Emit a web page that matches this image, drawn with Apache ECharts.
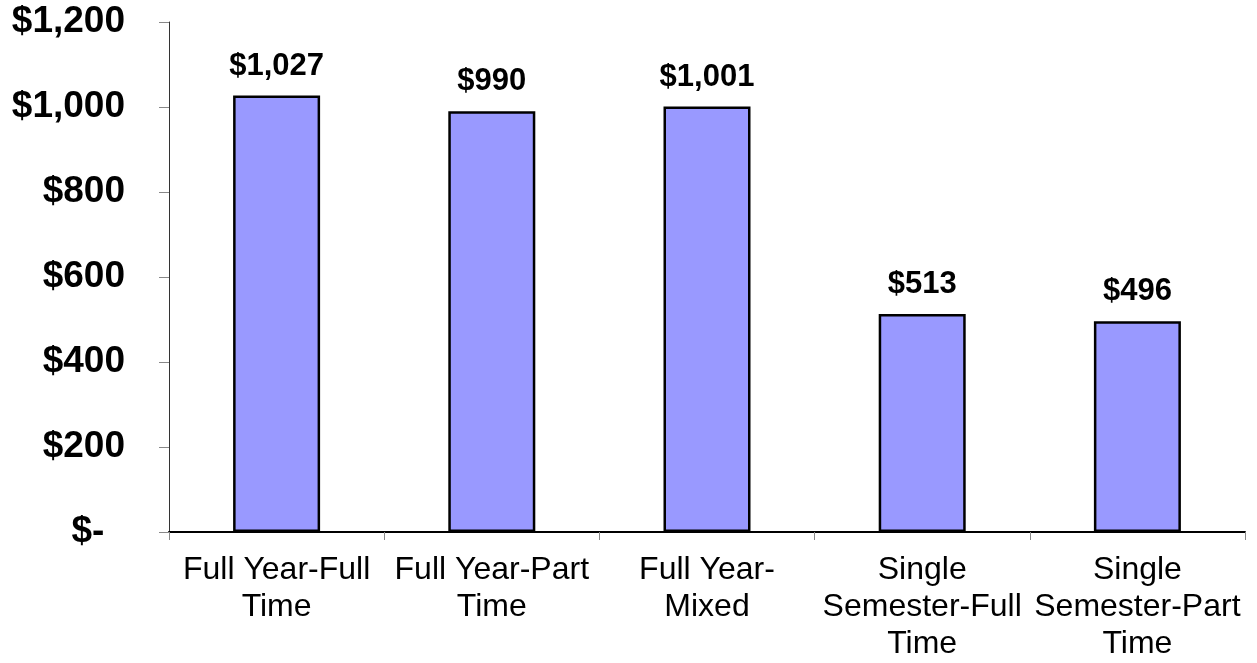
<!DOCTYPE html>
<html>
<head>
<meta charset="utf-8">
<script src="https://cdn.jsdelivr.net/npm/echarts@6/dist/echarts.min.js"></script>
<style>
html, body { margin: 0; padding: 0; background: #fff; }
#main { width: 1257px; height: 663px; }
</style>
</head>
<body>
<div id="main"></div>
<script>
// categories (line breaks as in the picture)
var categories = [
  'Full Year-Full\nTime',
  'Full Year-Part\nTime',
  'Full Year-\nMixed',
  'Single\nSemester-Full\nTime',
  'Single\nSemester-Part\nTime'
];
var values = [1027, 990, 1001, 513, 496];
var yTicks = [0, 200, 400, 600, 800, 1000, 1200];

function money(v) {
  return '$' + v.toLocaleString('en-US');
}

var myChart = echarts.init(document.getElementById('main'));
var option = {
  animation: false,
  grid: {
    left: 169,
    right: 12,
    top: 22,
    bottom: 131
  },
  xAxis: {
    type: 'category',
    data: categories,
    axisLine: { lineStyle: { color: '#000', width: 2 } },
    axisTick: {
      show: true,
      interval: 0,
      alignWithLabel: false,
      length: 8,
      lineStyle: { color: '#888', width: 1 }
    },
    axisLabel: {
      interval: 0,
      margin: 20,
      color: '#000',
      fontFamily: 'Liberation Sans, Arial, sans-serif',
      fontSize: 32,
      lineHeight: 37
    }
  },
  yAxis: {
    type: 'value',
    min: yTicks[0],
    max: yTicks[yTicks.length - 1],
    interval: 200,
    splitLine: { show: false },
    axisLine: { show: true, lineStyle: { color: '#333', width: 1 } },
    axisTick: { show: true, length: 10, lineStyle: { color: '#888' } },
    axisLabel: {
      margin: 44,
      color: '#000',
      fontWeight: 'bold',
      fontFamily: 'Liberation Sans, Arial, sans-serif',
      fontSize: 37,
      formatter: function (v) {
        return v === 0 ? '$-  ' : money(v);
      }
    }
  },
  series: [{
    type: 'bar',
    data: values,
    barWidth: 87,
    itemStyle: {
      color: '#9999FF',
      borderColor: '#000',
      borderWidth: 2.5
    },
    label: {
      show: true,
      position: 'top',
      distance: 14,
      color: '#000',
      fontWeight: 'bold',
      fontFamily: 'Liberation Sans, Arial, sans-serif',
      fontSize: 31,
      formatter: function (p) { return money(p.value); }
    }
  }]
};
myChart.setOption(option);
window.onresize = myChart.resize;
</script>
</body>
</html>
